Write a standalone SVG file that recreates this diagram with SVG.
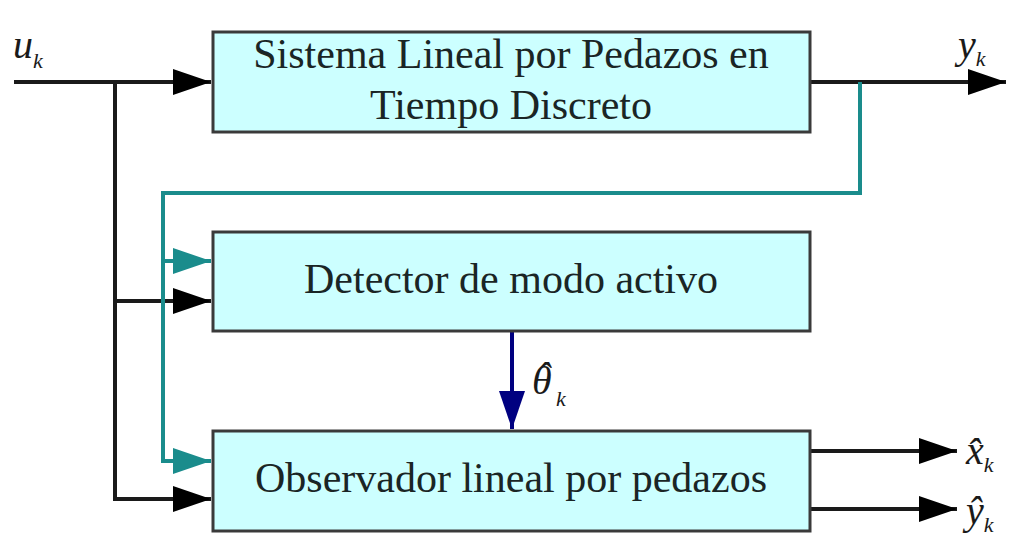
<svg xmlns="http://www.w3.org/2000/svg" width="1024" height="553" viewBox="0 0 1024 553">
<style>
.box{fill:#CCFFFF;stroke:#3a3a3a;stroke-width:3}
.t{font-family:"Liberation Serif","Times New Roman",serif;font-size:42px;fill:#1a2525;text-anchor:middle}
.m{font-family:"Liberation Serif","Times New Roman",serif;font-style:italic;fill:#1a1a1a}
.blk{stroke:#1a1a1a;stroke-width:4;fill:none}
.teal{stroke:#1A8C8C;stroke-width:4;fill:none}
.navy{stroke:#000080;stroke-width:4;fill:none}
</style>
<defs>
<marker id="ab" markerUnits="userSpaceOnUse" markerWidth="40" markerHeight="30" refX="38" refY="13" orient="auto" viewBox="0 0 40 30"><path d="M0,0 L38,13 L0,26 Z" fill="#000"/></marker>
<marker id="at" markerUnits="userSpaceOnUse" markerWidth="40" markerHeight="30" refX="38" refY="13" orient="auto" viewBox="0 0 40 30"><path d="M0,0 L38,13 L0,26 Z" fill="#1A8C8C"/></marker>
<marker id="an" markerUnits="userSpaceOnUse" markerWidth="40" markerHeight="30" refX="38" refY="13" orient="auto" viewBox="0 0 40 30"><path d="M0,0 L38,13 L0,26 Z" fill="#000080"/></marker>
</defs>
<rect width="1024" height="553" fill="#fff"/>
<g id="connectors">
<path class="blk" d="M14,82 H211" marker-end="url(#ab)"/>
<path class="blk" d="M115,82 V499 H211" marker-end="url(#ab)"/>
<path class="blk" d="M115,301 H211" marker-end="url(#ab)"/>
<path class="blk" d="M810,82 H1006" marker-end="url(#ab)"/>
<path class="teal" d="M860,82 V193 H163 V461 H211" marker-end="url(#at)"/>
<path class="teal" d="M163,261 H211" marker-end="url(#at)"/>
<path class="navy" d="M512,331 V429" marker-end="url(#an)"/>
<path class="blk" d="M810,451 H957" marker-end="url(#ab)"/>
<path class="blk" d="M810,509 H957" marker-end="url(#ab)"/>
</g>
<g id="sistema">
<rect class="box" x="213" y="32" width="597" height="100"/>
<text class="t" x="511" y="68">Sistema Lineal por Pedazos en</text>
<text class="t" x="511" y="119">Tiempo Discreto</text>
</g>
<g id="detector">
<rect class="box" x="213" y="232" width="597" height="99"/>
<text class="t" x="511" y="293">Detector de modo activo</text>
</g>
<g id="observador">
<rect class="box" x="213" y="431" width="597" height="100"/>
<text class="t" x="511" y="492">Observador lineal por pedazos</text>
</g>
<g id="labels">
<text class="m" x="13" y="58" font-size="40">u<tspan font-size="22" dy="10">k</tspan></text>
<text class="m" x="958" y="58" font-size="40">y<tspan font-size="22" dy="8">k</tspan></text>
<text class="m" x="532" y="394" font-size="40">θ<tspan dx="-15" dy="-4">ˆ</tspan><tspan font-size="22" dx="6" dy="16">k</tspan></text>
<text class="m" x="966" y="464" font-size="40">x̂<tspan font-size="22" dy="8">k</tspan></text>
<text class="m" x="966" y="524" font-size="40">ŷ<tspan font-size="22" dy="8">k</tspan></text>
</g>
</svg>
